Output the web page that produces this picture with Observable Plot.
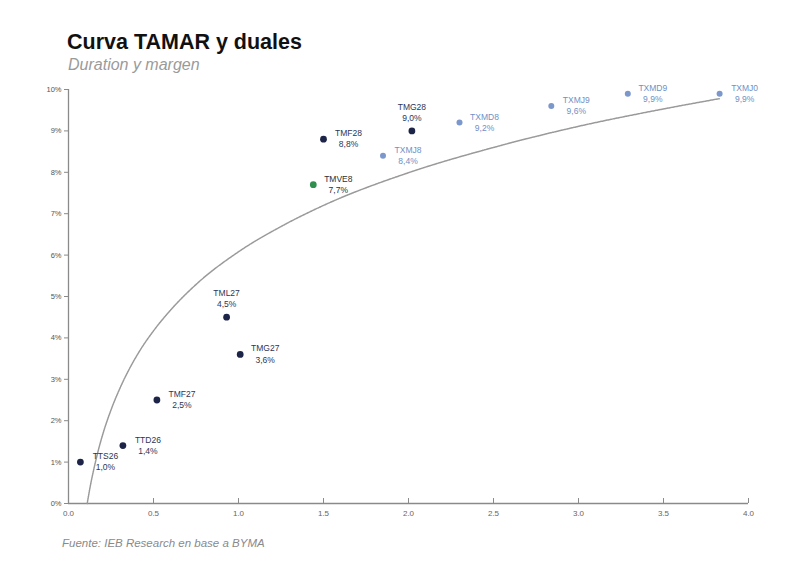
<!DOCTYPE html>
<html>
<head>
<meta charset="utf-8">
<script src="https://cdn.jsdelivr.net/npm/d3@7"></script>
<script src="https://cdn.jsdelivr.net/npm/@observablehq/plot@0.6"></script>
<style>
  body { margin: 0; background: #fff; font-family: "Liberation Sans", Arial, sans-serif; }
  #wrap { position: relative; width: 800px; height: 570px; }
  #title { position: absolute; left: 67px; top: 30px; font-size: 21.5px; font-weight: bold; color: #111; }
  #subtitle { position: absolute; left: 68px; top: 56px; font-size: 16px; font-style: italic; color: #9a9a9a; }
  #chart { position: absolute; left: 0; top: 75px; }
  #caption { position: absolute; left: 62px; top: 537px; font-size: 11.5px; font-style: italic; color: #8a8a8a; }
</style>
</head>
<body>
<div id="wrap">
  <div id="title">Curva TAMAR y duales</div>
  <div id="subtitle">Duration y margen</div>
  <div id="chart"></div>
  <div id="caption">Fuente: IEB Research en base a BYMA</div>
</div>
<script>
// Bonds
const names     = ["TTS26","TTD26","TMF27","TML27","TMG27","TMVE8","TMF28","TXMJ8","TMG28","TXMD8","TXMJ9","TXMD9","TXMJ0"];
const durations = [0.07, 0.32, 0.52, 0.93, 1.01, 1.44, 1.50, 1.85, 2.02, 2.30, 2.84, 3.29, 3.83];
const margins   = [1.0, 1.4, 2.5, 4.5, 3.6, 7.7, 8.8, 8.4, 9.0, 9.2, 9.6, 9.9, 9.9];
const groups    = ["dual","dual","tamar","tamar","tamar","otro","tamar","tx","tamar","tx","tx","tx","tx"];
const aboveLabels = ["TML27","TMG28"];

// Trend curve
const curveX = [0.11, 0.13, 0.15, 0.175, 0.2, 0.25, 0.3, 0.4, 0.5, 0.6, 0.75, 1.0, 1.25, 1.5, 2.0, 2.5, 3.0, 3.5, 3.83];
const curveY = [0.0, 0.46, 0.85, 1.28, 1.65, 2.26, 2.76, 3.56, 4.17, 4.67, 5.29, 6.08, 6.69, 7.20, 7.99, 8.60, 9.11, 9.53, 9.78];

// Axis ticks
const xTicks = [0, 0.5, 1, 1.5, 2, 2.5, 3, 3.5, 4];
const yTicks = [0,1,2,3,4,5,6,7,8,9,10];

const data = names.map((n, i) => ({name: n, x: durations[i], y: margins[i], g: groups[i]}));
const curve = curveX.map((x, i) => ({x, y: curveY[i]}));

const pointColor = {dual: "#1c2448", tamar: "#1c2448", tx: "#7b97cc", otro: "#2f8f4e"};
const textColor  = {dual: "#2c3557", tamar: "#2c3557", tx: "#7090c6", otro: "#2a2f3a"};
const fmt = v => v.toFixed(1).replace(".", ",") + "%";

const right = data.filter(d => !aboveLabels.includes(d.name));
const above = data.filter(d => aboveLabels.includes(d.name));

const chart = Plot.plot({
  width: 800,
  height: 450,
  marginLeft: 68,
  marginRight: 52,
  marginTop: 14,
  marginBottom: 22,
  style: {fontFamily: "Liberation Sans, Arial, sans-serif", background: "transparent"},
  x: {domain: [0, 4], label: null},
  y: {domain: [0, 10], label: null},
  marks: [
    Plot.ruleY([0], {stroke: "#8a8a8a", strokeWidth: 1.3}),
    Plot.ruleX([0], {stroke: "#8a8a8a", strokeWidth: 1.3}),
    Plot.ruleX(xTicks, {x: d => d, y1: 0, y2: 0.12, stroke: "#8a8a8a"}),
    Plot.axisX({ticks: xTicks, tickSize: 0, tickPadding: 7, fontSize: 8, fill: "#666", tickFormat: d3.format(".1f"), label: null}),
    Plot.axisY({ticks: yTicks, tickSize: 4, tickPadding: 3, fontSize: 7.5, fill: "#555", stroke: "#8a8a8a", tickFormat: d => d + "%", label: null}),
    Plot.line(curve, {x: "x", y: "y", curve: "monotone-x", stroke: "#9a9a9a", strokeWidth: 1.5, strokeDasharray: "1.2,0.8"}),
    Plot.dot(data, {x: "x", y: "y", r: d => d.g === "tx" ? 2.2 : 2.8, fill: d => pointColor[d.g], stroke: "none"}),
    Plot.text(right, {
      x: "x", y: "y", text: d => d.name + "\n" + fmt(d.y),
      textAnchor: "middle", lineHeight: 1.3,
      fontSize: 8.5,
      fill: d => textColor[d.g],
      fontStyle: d => (d.g === "tx" || d.g === "otro") ? "italic" : "normal",
      fontWeight: d => d.g === "otro" ? "bold" : "normal",
      dx: 25, dy: -1
    }),
    Plot.text(above, {
      x: "x", y: "y", text: d => d.name + "\n" + fmt(d.y),
      textAnchor: "middle", lineHeight: 1.3, fontSize: 8.5,
      fill: d => textColor[d.g], dy: -19
    })
  ]
});
document.getElementById("chart").appendChild(chart);
</script>
</body>
</html>
